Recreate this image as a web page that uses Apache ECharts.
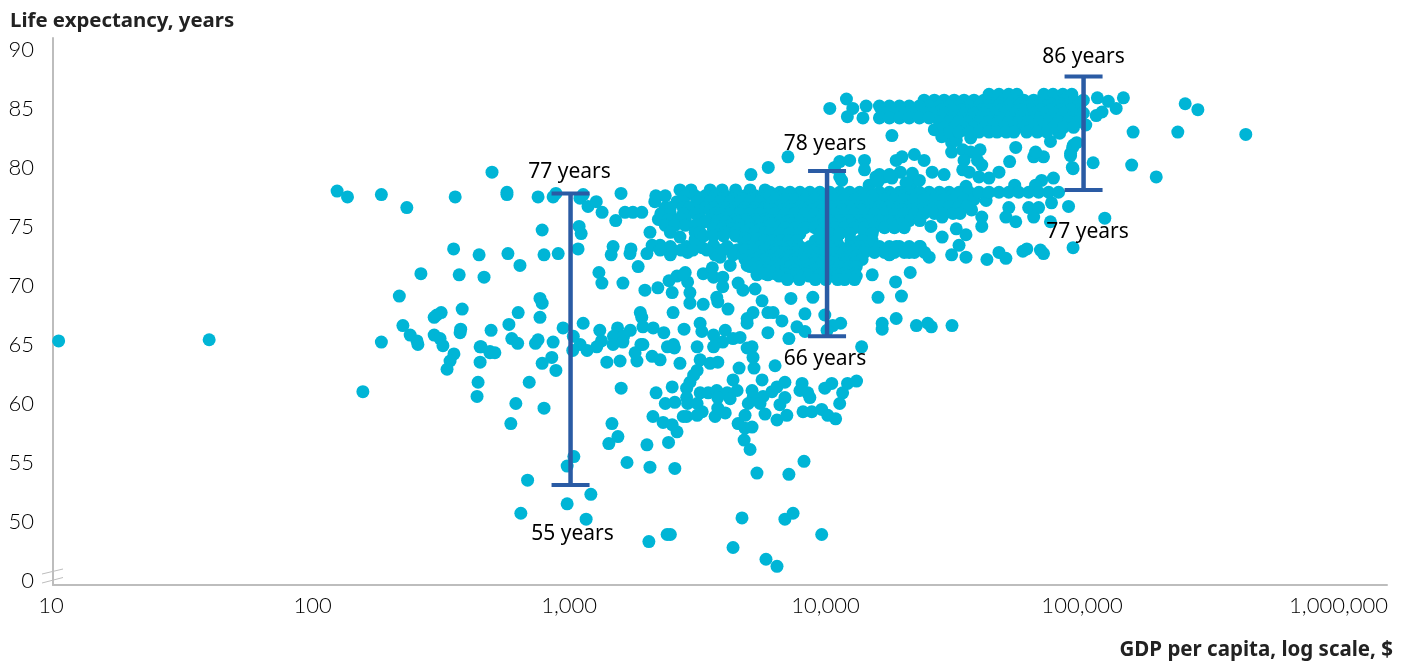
<!DOCTYPE html>
<html>
<head>
<meta charset="utf-8">
<title>Life expectancy and GDP per capita</title>
<script src="https://cdn.jsdelivr.net/npm/echarts@6/dist/echarts.min.js"></script>
<style>
    html, body { margin: 0; padding: 0; background: #fff; }
    #chart { width: 1409px; height: 663px; }
</style>
</head>
<body>
<div id="chart"></div>
<script>
// x tick labels and y tick labels (45 sits below the axis break and reads as 0)
var xTicks = [10, 100, 1000, 10000, 100000, 1000000];
var yTicks = [45, 50, 55, 60, 65, 70, 75, 80, 85, 90];

// single countries, [gdp, life expectancy]
var lowestIncome = [[10.1,65.3],[39,65.4],[123,78],[135,77.5],[183,77.7],[230,76.6],[355,77.5],[350,73.1],[261,71],[368,70.9],[215,69.1],[222,66.6],[373,66.3],[378,68],[313,67.7],[294,67.3],[301,67.5],[183,65.2],[155,61],[237,65.8],[254,65],[252,65.3],[294,65.8],[310,65.5],[318,64.9],[351,64.2],[339,63.6],[330,62.9],[371,66]];
var lowIncomeTop = [[494,79.6],[565,77.9],[565,77.7],[747,77.5],[855,77.5],[877,77.8],[1088,77.4],[1120,77.7],[1170,76.7],[1260,77.1],[1327,76.2],[1573,77.8],[1500,75.5],[1630,76.2],[1750,76.2],[1895,76.2],[1080,75],[1100,74.4],[775,74.7],[2040,74.5],[1070,73.1],[440,72.6],[570,72.7],[788,72.6],[895,72.7],[635,71.7],[460,70.7],[1465,73.3],[1440,72.6],[1720,73.1],[1705,72.7],[1985,72.7],[1835,71.6],[1290,71.1],[1325,70.2],[1600,70.2],[1950,69.6],[2190,69.8],[2420,70.4],[2490,69.4],[760,68.9],[775,68.5],[625,67.7],[760,67.3],[575,66.7],[490,66.2],[1120,66.8],[935,66.4],[1870,67.7],[1895,67.3],[1915,66.5],[2510,67.7],[2770,66.3],[3200,66.8],[3250,66.1],[5900,80],[5050,79.4]];
var band65 = [[444,64.8],[485,64.4],[590,65.5],[622,65.1],[747,65.4],[730,65.1],[855,65.2],[1025,65.7],[1090,65],[1300,66.2],[1320,65.3],[1525,66.4],[1470,65.7],[1710,66.2],[1610,65.7],[1880,65],[2100,66.4],[2310,66],[2520,65],[2540,64.7],[448,64.8],[485,64.3],[507,64.3],[444,63.5],[845,63.9],[775,63.4],[877,62.8],[436,61.8],[432,60.6],[690,61.8],[612,60],[788,59.6],[585,58.3],[1020,64.5],[1160,64.5],[1265,64.8],[1465,65],[1600,65.2],[1385,63.5],[1560,63.6],[1815,63.6],[1785,64.3],[1915,65],[2080,64],[2235,63.7],[2385,64.8],[2510,64.8],[3115,64.8],[2670,63.4],[3200,63.7],[3500,63.4],[3750,63.5],[3715,65.2],[3920,65.2],[4880,64.7],[5100,64.8],[5145,63.9],[5190,63],[4540,63],[6270,63.2]];
var band60 = [[3115,62.8],[3020,62.4],[2920,61.8],[2835,61.3],[2490,61.4],[1575,61.3],[2155,60.9],[2340,60],[2550,60.1],[2835,60.5],[3200,60.9],[3440,60.9],[3715,61.1],[4080,60.9],[4300,62],[4460,61.1],[4190,60.4],[3750,60.5],[2860,60],[3115,60],[3260,59.3],[3115,59],[2835,58.9],[2750,58.9],[3660,58.9],[4010,59.2],[3750,59.6],[2095,58.9],[2295,58.4],[2490,58.2],[2600,57.6],[5580,62],[5100,61.1],[5145,60.5],[4930,60],[5630,60.6],[5480,60],[6100,61],[6380,61.4],[6850,61.8],[7990,61.7],[7840,61.1],[8410,60.9],[8570,60.5],[6850,60.5],[6550,59.9],[5730,59.1],[6380,58.6],[6970,59],[8060,59.3],[8720,59.3],[9530,59.5],[10060,59],[10800,58.7],[9800,61.3],[10430,61.7],[12020,61.7],[13030,61.9],[11500,60.9],[11200,60],[4790,59],[4500,58.3],[4790,57.9],[5100,58],[4750,56.9],[5010,56.1],[13640,64.8]];
var below58 = [[1450,58.3],[1530,57.2],[1410,56.6],[1985,56.5],[2410,56.7],[1660,55],[2040,54.6],[2550,54.5],[1030,55.5],[970,54.7],[680,53.5],[970,51.5],[1200,52.3],[640,50.7],[1150,50.2],[2020,48.3],[2380,48.9],[2450,48.9],[4300,47.8],[5780,46.8],[6380,46.2],[4660,50.3],[6850,50.2],[7370,50.7],[9530,48.9],[5330,54.1],[7100,54],[8130,55.1]];
var middle70 = [[2800,71.1],[2600,70.8],[3290,71],[3570,71.5],[3610,70.7],[3920,70.7],[3920,69.9],[3715,69],[3750,68.6],[4110,68],[3290,68.4],[2920,68.5],[2920,69.4],[2860,70.3],[2750,70.9],[4500,70.2],[4700,69.6],[5240,69.7],[5580,68.7],[5880,70.9],[5145,67.7],[4880,67.2],[4880,66.8],[5880,67.7],[5880,66],[4010,66.2],[3610,65.8],[3610,64.8],[4300,65.5],[4580,65.6],[7230,68.9],[8800,69],[8200,67.6],[9800,67.5],[11300,66.8],[10530,66.6],[6160,67.7],[6670,67],[7630,66.5],[8200,66.1],[7100,65.5],[10000,66.2],[16400,66.8],[16400,66.3],[18600,67.2],[22300,66.6],[24700,66.8],[25500,66.5],[30700,66.6],[15000,70.9],[18500,70.3],[21100,71.1],[15800,69],[19500,69.1]];
var middle73 = [[2080,73.4],[2235,73.4],[2450,73.3],[2670,74.1],[2835,73.3],[2860,72.8],[2450,72.6],[3260,73.2],[3610,73.4],[3830,72.4],[4080,73.3],[4190,71.7],[4700,73.9],[4880,71.7],[5330,70.9],[5010,73.3],[3060,73.9],[2235,73],[4460,73],[3660,72.6]];
var upperMiddle = [[7040,80.9],[17900,82.7],[36600,76.4],[40100,75.8],[40100,75],[28100,75.8],[31900,76.4],[25400,75],[28100,74.1],[31900,74.8],[34800,74.3],[32700,73.4],[30600,72.6],[34800,72.4],[42000,72.2],[46800,72.8],[49800,72.3],[58000,72.9],[60100,73.1],[67900,73],[69800,72.7],[91000,73.2],[51100,76.6],[49800,75.8],[54400,75.4],[41700,77.2],[61100,76.6],[66800,76.6],[63900,75.8],[75000,77],[87400,76.7],[74300,75.4],[25000,72.4],[23100,73.3],[20900,72.8],[18600,73.3],[17500,72.6],[121000,75.7]];
var richer80 = [[28100,82.9],[30600,82.1],[33800,81.5],[30600,81.3],[36300,81.3],[39500,81.5],[34200,80.6],[33800,79.8],[35800,79.6],[38600,80.6],[40100,80.2],[39100,79.2],[42800,79.1],[46800,79.6],[51500,80.5],[54400,81.7],[74300,82.2],[80700,82.9],[63900,80.9],[69800,80.9],[65000,81.3],[91300,81.9],[89000,81.2],[90400,80],[109000,80.4],[53900,78.5],[68600,78.9],[76300,79.1],[65000,78.5],[11200,80.5],[12250,80.6],[14000,80.6],[14000,79.8],[11200,79.2],[18600,80.6],[19600,80.9],[21900,81.1],[23900,80.6],[19300,79.6],[21500,79.5],[15500,79.2],[16700,79.2],[17900,79.1],[25700,79.6],[28600,79.4],[21500,78.7],[14600,78.5],[34800,78.4],[20300,78.7],[22900,78.9],[10700,80],[11400,78.9],[16000,79.4],[17500,79.4],[15800,78.8]];
var richest = [[10250,85],[11900,85.8],[12600,85],[14200,85.2],[12000,84.3],[13800,84.2],[113200,85.9],[143000,85.9],[134000,85],[118000,84.7],[112000,84.4],[124900,85.6],[102000,83.6],[79900,83],[156000,83],[233000,83],[429000,82.8],[249000,85.4],[279000,84.9],[154000,80.2],[192000,79.2],[91000,79.9],[90700,81.7],[94000,82.1],[89000,81],[26200,83.2],[28000,82.6],[36300,82.5],[31900,82.3]];

// crowded parts of the cloud, one row per life expectancy: [life, gdp, gdp, ...]
var crowdLow = [
    [78.1, 2670, 2950, 3500, 3900, 4400, 5010, 5730],
    [77.6, 2150, 2340, 2800, 3060, 3350, 3660, 4010, 4380, 4790, 5240, 5600],
    [77.35, 3300, 3600, 3950, 4300, 4700, 5100, 5550],
    [77.1, 2130, 2600, 2750, 3100, 3500, 3830, 4190, 4580, 5010, 5480],
    [76.6, 2340, 2450, 2750, 2900, 3350, 3600, 4010, 4380, 4790, 5240, 5730],
    [76.35, 3200, 3500, 3850, 4250, 4650, 5100, 5600],
    [76.1, 2250, 2450, 2750, 3060, 3660, 3830, 4190, 4580, 5010, 5480],
    [75.6, 2200, 2400, 2650, 2800, 3200, 3500, 3900, 4380, 4790, 5240, 5730],
    [75.4, 3350, 3700, 4050, 4500, 4900, 5350, 5800],
    [75.1, 2340, 2550, 2800, 3060, 3660, 4190, 4580, 5010, 5480],
    [74.8, 3600, 3900, 4250, 4600, 5000, 5500],
    [74.5, 2450, 3060, 3200, 4010, 4380, 4790, 5240, 5730],
    [74.2, 3300, 3600, 3950, 4400],
    [74.0, 4800, 5200, 5600],
    [73.0, 2500, 2700, 3000, 3400, 3900, 4200, 4500, 4800, 5200, 5700],
    [72.6, 4300, 4700, 5000]
];
var crowdCore = [
    [77.9, 5990, 6550, 7170, 7840, 8570, 9370, 10250, 11200, 12250, 13400, 14640, 16000, 17500, 19150, 20900, 22900, 25000, 27400, 29900, 32700, 35800],
    [77.6, 6000, 6700, 7300, 8000, 8800, 9600, 10500, 11500, 12500, 13700, 15000, 16400, 17900, 19600, 21400, 23400, 25600, 28000, 30600],
    [77.3, 6270, 6850, 7500, 8200, 8960, 9800, 10720, 11700, 12810, 14000, 15300, 16750, 18300, 20000, 21900, 23900, 26200, 28600, 31300, 34200, 37400],
    [76.7, 5990, 6550, 7170, 7840, 8570, 9370, 10250, 11200, 12250, 13400, 14640, 16000, 17500, 19150, 20900, 22900, 25000, 27400, 29900, 32700, 35000],
    [76.4, 6100, 6700, 7300, 8000, 8800, 9600, 10500, 11500, 12500, 13700, 15000, 16400, 17900, 19600, 21400, 23400, 25600],
    [76.1, 6270, 6850, 7500, 8200, 8960, 9800, 10720, 11700, 12810, 14000, 15300, 16750, 18300, 20000, 21900, 23900, 26200, 28600, 31000, 33000],
    [75.5, 5990, 6550, 7170, 7840, 8570, 9370, 10250, 11200, 12250, 13400, 14640, 16000, 17500, 19150, 20900, 23000],
    [75.2, 6100, 6700, 7300, 8000, 8800, 9600, 10500, 11500, 12500, 13700, 15000, 16400, 17900, 19600],
    [74.9, 6270, 6850, 7500, 8200, 8960, 9800, 10720, 11700, 12810, 14000, 15300, 16750, 18300, 20000],
    [74.4, 5990, 6550, 7170, 7840, 9370, 10250, 11200, 12250, 14000, 15000]
];
var crowdBelow = [
    [73.8, 4900, 5300, 5700, 6100, 6600, 7100, 7600, 9000, 9500, 10250, 10900, 12400, 13500, 15000],
    [73.3, 5010, 5480, 5990, 6550, 7170, 7840, 8570, 9370, 10250, 11200, 12250, 13400, 14640, 16000, 17500, 19150, 20900, 22900],
    [73.0, 4800, 5200, 5700, 6250, 6850, 7500, 8200, 9000, 9800, 10700, 11700, 12800, 14000],
    [72.8, 6270, 6850, 7500, 8200, 8960, 9800, 10720, 11700, 12810, 14000, 15300, 16750, 18300, 20000, 21900, 24000],
    [72.5, 5000, 5500, 6000, 6550, 7170, 7840, 8570, 9370, 10250, 11200, 12250, 13000],
    [72.2, 4790, 5240, 5730, 6270, 6850, 7500, 8200, 8960, 9800, 10720, 11700, 12810, 13700],
    [71.9, 4900, 5300, 5800, 6300, 6900, 7500, 8200, 9000, 9800, 10700, 11700, 12800],
    [71.6, 5010, 5480, 5990, 6550, 7170, 7840, 8570, 9370, 10250, 11200, 12250, 13000],
    [71.3, 5300, 5800, 6300, 6900, 7500, 8200, 9000, 9800, 10700, 11700, 12800],
    [71.0, 5730, 6270, 6850, 7500, 8200, 8960, 9800, 10720, 11700, 12810],
    [70.8, 6500, 7200, 7800, 8500, 9300, 10100, 11000, 12000, 13000],
    [70.5, 7000, 7800, 9000, 9900, 11000, 11700, 12800]
];
var crowdHigh = [
    [77.9, 39100, 42800, 46800, 51100, 55900, 61100, 66800, 73100, 79900],
    [86.2, 42800, 46800, 51100, 55000, 70000, 76000, 83000, 90000],
    [85.7, 23900, 26200, 28600, 31300, 34200, 37400, 40900, 44700, 48900, 53400, 58500, 63900, 69900, 76400, 83500, 91400, 99800],
    [85.4, 26000, 28000, 30500, 33500, 36500, 40000, 43500, 47500, 52000, 57000, 62500, 68000, 74500, 81500, 89000, 97000],
    [85.2, 16000, 17500, 19150, 20900, 22900, 25000, 27400, 29900, 32700, 35800, 39100, 42800, 46800, 51100, 55900, 61100, 66800, 73100, 79900, 87400, 95500],
    [84.9, 16300, 17800, 19500, 21300, 23300, 25500, 28000, 30500, 33500, 36500, 40000, 43500, 47500, 52000, 57000, 62500, 68000, 74500, 81500, 89000, 97000],
    [84.6, 16750, 18300, 20000, 21900, 23900, 26200, 28600, 31300, 34200, 37400, 40900, 44700, 48900, 53400, 58500, 63900, 69900, 76400, 83500, 91400, 99800],
    [84.2, 16000, 17500, 19150, 20900, 22900, 25000, 28000, 30500, 33500, 36500, 40000, 43500, 47500, 52000, 57000, 62500, 68000, 74500, 81500, 89000, 97000],
    [83.9, 27400, 29900, 32700, 35800, 39100, 42800, 46800, 51100, 55900, 61100, 66800, 73100, 79900, 87400, 95500],
    [83.4, 28600, 31300, 34200, 37400, 40900, 44700, 48900, 53400, 58500, 63900, 69900, 76400, 83500, 91400],
    [83.0, 30000, 32700, 35800, 39100, 42800, 46000, 50000, 53500, 60000, 66000, 72000]
];

// the three range bars: gdp level, top and bottom of the range, and what they say
var rangeGdp = [1000, 10000, 100000];
var rangeTop = [77.8, 79.7, 87.7];
var rangeBottom = [53.1, 65.7, 78.1];
var rangeTopText = ['77 years', '78 years', '86 years'];
var rangeBottomText = ['55 years', '66 years', '77 years'];

(function () {
    var myChart = echarts.init(document.querySelector("#chart"));

    var points = [].concat(lowestIncome, lowIncomeTop, band65, band60, below58, middle70, middle73, upperMiddle, richer80, richest);
    [crowdLow, crowdCore, crowdBelow, crowdHigh].forEach(function (rows) {
        rows.forEach(function (row) {
            row.slice(1).forEach(function (gdp) {
                points.push([gdp, row[0]]);
            });
        });
    });

    var blue = '#2A5BA4';
    var annotation = { color: '#000', fontFamily: 'Noto Sans', fontSize: 21 };
    // label distances per bar, top then bottom
    var topGap = [[-1, -4], [-2, -9], [0, -2]];
    var bottomGap = [[2, 32], [-2, 5], [4, 25]];

    var rangeSeries = rangeGdp.map(function (gdp, i) {
        return {
            type: 'line',
            z: 5,
            symbol: 'rect',
            symbolSize: [38, 4],
            itemStyle: { color: blue },
            lineStyle: { color: blue, width: 4.5 },
            silent: true,
            data: [
                {
                    value: [gdp, rangeTop[i]],
                    label: Object.assign({ show: true, position: 'top', formatter: rangeTopText[i], offset: topGap[i] }, annotation)
                },
                {
                    value: [gdp, rangeBottom[i]],
                    label: Object.assign({ show: true, position: 'bottom', formatter: rangeBottomText[i], offset: bottomGap[i] }, annotation)
                }
            ]
        };
    });

    var option = {
        animation: false,
        title: [
            {
                text: 'Life expectancy, years',
                left: 5, top: 6,
                textStyle: { color: '#222', fontFamily: 'Noto Sans', fontWeight: 'bold', fontSize: 20.4 }
            },
            {
                text: 'GDP per capita, log scale, $',
                right: 11, top: 635,
                textStyle: { color: '#222', fontFamily: 'Noto Sans', fontWeight: 'bold', fontSize: 20.5 }
            }
        ],
        grid: { left: 53, right: 22, top: 38, bottom: 78 },
        xAxis: {
            type: 'log',
            min: 9.6,
            max: 1524000,
            splitLine: { show: false },
            axisTick: { show: false },
            axisLine: { onZero: false, lineStyle: { color: '#BDBDBD', width: 2 } },
            axisLabel: {
                margin: 10,
                color: '#000',
                fontFamily: 'Lato',
                fontWeight: 300,
                fontSize: 22,
                padding: [0, 3, 0, 0],
                showMinLabel: true,
                showMaxLabel: true,
                hideOverlap: false,
                formatter: function (v) {
                    var hit = xTicks.filter(function (t) { return Math.abs(t - v) / t < 0.001; })[0];
                    if (!hit) return '';
                    return hit === 10 ? '{ten|10}' : hit.toLocaleString('en-US');
                },
                rich: { ten: { color: '#000', fontFamily: 'Lato', fontWeight: 300, fontSize: 22, padding: [0, 10, 0, 0] } }
            }
        },
        yAxis: {
            type: 'value',
            min: 44.62,
            max: 90.97,
            splitLine: { show: false },
            axisTick: { show: false },
            axisLine: { show: true, onZero: false, lineStyle: { color: '#BDBDBD', width: 2 } },
            axisLabel: {
                margin: 19,
                color: '#000',
                fontFamily: 'Lato',
                fontWeight: 300,
                fontSize: 22,
                customValues: yTicks,
                formatter: function (v) { return v === 45 ? '0' : String(v); }
            }
        },
        // the break marks on the y axis, just above the origin
        graphic: [
            { type: 'line', shape: { x1: 42, y1: 574, x2: 63, y2: 569 }, style: { stroke: '#BDBDBD', lineWidth: 1 } },
            { type: 'line', shape: { x1: 42, y1: 583, x2: 63, y2: 577.5 }, style: { stroke: '#BDBDBD', lineWidth: 1 } }
        ],
        series: [
            {
                type: 'scatter',
                symbolSize: 13,
                itemStyle: { color: '#00B5D6', opacity: 1 },
                large: false,
                silent: true,
                data: points
            }
        ].concat(rangeSeries)
    };

    myChart.setOption(option);

    window.addEventListener("resize", function () {
        myChart.resize();
    });
})();
</script>
</body>
</html>
